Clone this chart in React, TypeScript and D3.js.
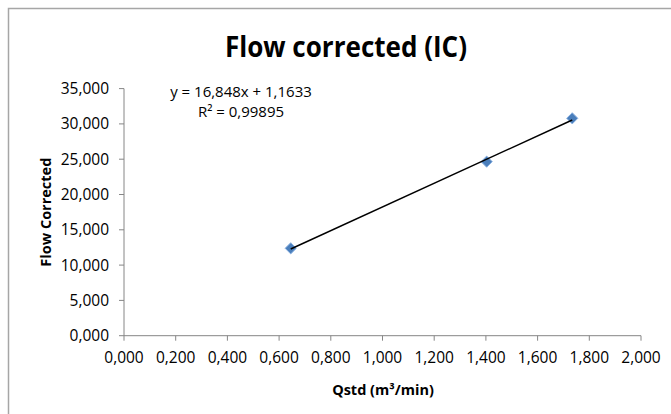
import React from "react";
import * as d3 from "d3";

const qstd: number[] = [0.645, 1.403, 1.734];
const flowCorrected: number[] = [12.38, 24.65, 30.79];
const xTicks: number[] = [0, 0.2, 0.4, 0.6, 0.8, 1.0, 1.2, 1.4, 1.6, 1.8, 2.0];
const yTicks: number[] = [0, 5, 10, 15, 20, 25, 30, 35];
const titleText = "Flow corrected (IC)";
const xTitle = "Qstd (m³/min)";
const yTitle = "Flow Corrected";
const equationLines: string[] = ["y = 16,848x + 1,1633", "R² = 0,99895"];

const W = 671;
const H = 414;
const plot = { left: 124, right: 641, top: 88.6, bottom: 335.7 };
const FONT = "'Open Sans', 'DejaVu Sans', sans-serif";

const locale = d3.formatLocale({ decimal: ",", thousands: ".", grouping: [3], currency: ["", ""] });
const fmt = locale.format(".3f");

function fit(xs: number[], ys: number[]) {
  const mx = d3.mean(xs)!;
  const my = d3.mean(ys)!;
  let sxy = 0;
  let sxx = 0;
  xs.forEach((x, i) => {
    sxy += (x - mx) * (ys[i] - my);
    sxx += (x - mx) * (x - mx);
  });
  const slope = sxy / sxx;
  return { slope, intercept: my - slope * mx };
}

export default function App() {
  const x = d3.scaleLinear().domain([0, 2]).range([plot.left, plot.right]);
  const y = d3.scaleLinear().domain([0, 35]).range([plot.bottom, plot.top]);
  const { slope, intercept } = fit(qstd, flowCorrected);
  const [x0, x1] = d3.extent(qstd) as [number, number];
  const trend = d3.line<number>()
    .x((d) => x(d))
    .y((d) => y(slope * d + intercept))([x0, x1]) as string;
  const diamond = d3.symbol().type(d3.symbolDiamond2).size(80)() as string;
  const axisColor = "#868686";

  return (
    <svg
      width={W}
      height={H}
      style={{ position: "absolute", left: 0, top: 0, background: "#fff" }}
      fontFamily={FONT}
    >
      <rect x={8.5} y={8.5} width={800} height={600} fill="#fff" stroke="#a6a6a6" strokeWidth={1.5} />
      <text
        x={346}
        y={57}
        textAnchor="middle"
        fontSize={28}
        fontWeight="bold"
        fill="#000"
        textLength={242}
        lengthAdjust="spacingAndGlyphs"
      >
        {titleText}
      </text>
      {/* axes */}
      <line x1={plot.left} x2={plot.left} y1={plot.top} y2={plot.bottom} stroke={axisColor} strokeWidth={1} />
      <line x1={plot.left} x2={plot.right} y1={plot.bottom} y2={plot.bottom} stroke={axisColor} strokeWidth={1} />
      {yTicks.map((t) => (
        <g key={"y" + t}>
          <line x1={plot.left - 5} x2={plot.left} y1={y(t)} y2={y(t)} stroke={axisColor} />
          <text x={109} y={y(t)} dy="0.36em" textAnchor="end" fontSize={15.5} fill="#000">
            {fmt(t)}
          </text>
        </g>
      ))}
      {xTicks.map((t) => (
        <g key={"x" + t}>
          <line x1={x(t)} x2={x(t)} y1={plot.bottom} y2={plot.bottom + 5} stroke={axisColor} />
          <text x={x(t)} y={362.5} textAnchor="middle" fontSize={15.5} fill="#000">
            {fmt(t)}
          </text>
        </g>
      ))}
      <text x={383} y={395} textAnchor="middle" fontSize={14.5} fontWeight="bold" fill="#000">
        {xTitle}
      </text>
      <text
        transform={`translate(51, ${(plot.top + plot.bottom) / 2}) rotate(-90)`}
        textAnchor="middle"
        fontSize={14.5}
        fontWeight="bold"
        fill="#000"
      >
        {yTitle}
      </text>
      {/* markers */}
      {qstd.map((q, i) => (
        <path
          key={"m" + i}
          d={diamond}
          transform={`translate(${x(q)}, ${y(flowCorrected[i])})`}
          fill="#4a7ebb"
          stroke="#8db3e2"
          strokeWidth={1}
        />
      ))}
      <path d={trend} fill="none" stroke="#000" strokeWidth={1.5} />
      {equationLines.map((l, i) => (
        <text key={"e" + i} x={241} y={97 + i * 20} textAnchor="middle" fontSize={15} fill="#000">
          {l}
        </text>
      ))}
    </svg>
  );
}
